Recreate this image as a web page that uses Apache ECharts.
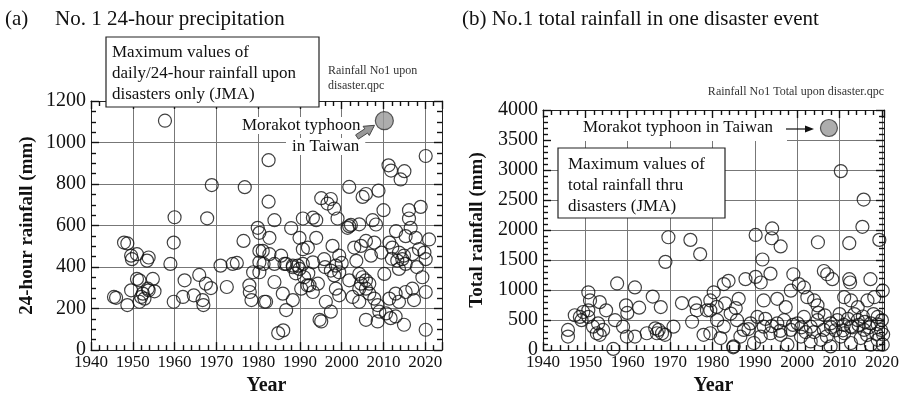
<!DOCTYPE html>
<html>
<head>
<meta charset="utf-8">
<script src="https://cdn.jsdelivr.net/npm/echarts@6/dist/echarts.min.js"></script>
<style>
  html, body { margin: 0; padding: 0; background: #fff; }
  #chart { width: 902px; height: 401px; }
</style>
</head>
<body>
<div id="chart"></div>
<script>
// (a) 24-hour rainfall, largest value per disaster
const yearA = [
  1957.7, 1968.9, 1976.8, 1960.0, 1967.8, 1982.5, 1982.5, 2020.1, 2011.2, 2011.8,
  2015.0, 2014.1, 2001.8, 2008.8, 2005.8, 2005.0, 1995.1, 1997.4, 1996.6, 1998.2,
  1983.9, 1990.7, 1993.1, 1993.9, 1999.0, 2007.4, 2010.0, 2016.1, 2018.9, 2016.1,
  2002.2, 2004.2, 1987.9, 1947.9, 1948.7, 1949.6, 1951.0, 1949.8, 1953.8, 1953.4,
  1959.8, 1959.0, 1971.0, 1973.9, 1974.9, 1976.5, 1979.9, 1980.3, 1981.3, 1978.8,
  1981.5, 1945.5, 1946.0, 1948.7, 1949.6, 1951.0, 1951.6, 1954.8, 1955.2, 1953.6,
  1952.4, 1952.0, 1952.8, 1951.6, 1953.8, 1959.8, 1962.4, 1962.0, 1965.9, 1967.5,
  1968.7, 1964.6, 1966.7, 1966.9, 1972.5, 1977.9, 1978.0, 1978.4, 1980.3, 1980.3,
  1982.7, 1989.9, 1993.9, 1982.7, 1981.1, 1985.5, 1990.7, 1991.9, 1997.8, 1999.4,
  2001.8, 2008.2, 2003.0, 2004.6, 2005.8, 2007.8, 2013.0, 2016.5, 2020.9, 2011.4,
  2012.1, 2013.7, 2014.9, 2016.9, 2018.5, 2020.1, 2013.3, 2015.3, 2017.7, 1980.3,
  1983.9, 1986.3, 1988.3, 1989.5, 1990.7, 1993.1, 1995.8, 1998.6, 1999.4, 1998.2,
  1997.4, 2004.2, 2005.0, 2005.8, 2006.6, 2004.6, 2004.2, 2005.8, 2001.8, 2010.2,
  2014.5, 2015.3, 2013.7, 2019.3, 1983.9, 1985.9, 1988.3, 1990.3, 1992.3, 1993.1,
  1994.3, 1981.9, 1996.2, 1997.4, 1998.6, 1999.4, 1986.7, 1994.7, 1995.1, 2002.6,
  2004.2, 2006.6, 2007.8, 2009.0, 2008.6, 2010.6, 2011.4, 2012.9, 2013.7, 2015.3,
  2016.9, 2017.3, 2020.1, 2011.7, 2012.9, 2005.8, 2008.6, 2014.9, 2020.1, 1984.8,
  1986.0, 1988.3, 1989.9, 1986.7, 1991.0, 1991.8, 2001.4, 2003.5, 2007.0, 2009.5,
  2012.0, 2019.8, 2018.0, 2000.0, 1996.0, 1992.0, 1989.0
];
const rainA = [
  1105, 795, 785, 640, 635, 915, 715, 935, 890, 865,
  862, 822, 786, 768, 752, 738, 732, 728, 706, 682,
  626, 634, 638, 626, 634, 626, 674, 674, 690, 634,
  603, 606, 588, 518, 514, 455, 462, 438, 446, 431,
  518, 415, 407, 415, 420, 526, 589, 478, 415, 375,
  233, 256, 252, 217, 288, 343, 336, 343, 283, 296,
  272, 256, 248, 233, 288, 233, 336, 256, 362, 320,
  299, 264, 241, 217, 304, 312, 280, 241, 375, 565,
  541, 541, 541, 462, 478, 455, 486, 494, 502, 455,
  597, 605, 494, 502, 526, 518, 573, 589, 533, 518,
  494, 470, 455, 462, 486, 438, 431, 549, 541, 423,
  415, 415, 407, 407, 415, 423, 438, 407, 375, 360,
  383, 367, 351, 336, 320, 320, 296, 296, 336, 367,
  438, 415, 391, 351, 328, 272, 241, 296, 312, 280,
  320, 233, 233, 185, 296, 264, 193, 146, 138, 256,
  233, 272, 248, 185, 217, 177, 248, 272, 233, 280,
  296, 241, 280, 154, 162, 146, 138, 122, 98, 82,
  95, 399, 391, 415, 351, 312, 589, 430, 455, 470,
  440, 470, 400, 420, 400, 370, 370
];

// (b) total rainfall through one disaster event
const yearB = [
  1969.6, 1974.8, 1977.1, 1968.9, 1957.5, 1961.7, 1950.7, 1951.1, 1953.4, 1954.9,
  1959.6, 1959.9, 1962.7, 1965.9, 1967.8, 1972.8, 1975.9, 1976.3, 1978.7, 1979.5,
  1947.5, 1948.7, 1949.5, 1950.7, 1949.1, 1950.7, 1945.9, 1945.9, 1951.8, 1953.0,
  1954.2, 1952.7, 1953.4, 1957.0, 1958.9, 1959.8, 1961.7, 1956.6, 1964.5, 1966.5,
  1967.3, 1966.9, 1968.1, 1968.8, 1970.8, 1975.2, 1977.9, 1979.5, 1990.2, 1994.1,
  1994.0, 1996.1, 1991.8, 1987.8, 1990.2, 1991.4, 1993.7, 1999.1, 2004.9, 2012.3,
  2015.4, 2019.4, 2006.3, 2007.1, 2008.3, 2012.3, 2012.5, 2017.3, 2020.2, 1983.8,
  1982.7, 1980.3, 1986.2, 1992.1, 1995.3, 1997.3, 1998.5, 2000.4, 2001.6, 2002.4,
  2004.0, 2004.8, 2011.1, 2012.7, 2014.3, 2016.6, 2018.2, 1979.5, 1981.1, 1982.7,
  1984.3, 1985.8, 1987.4, 1989.0, 1990.6, 1992.1, 1993.7, 1995.3, 1996.9, 1998.5,
  2000.1, 2001.6, 2003.2, 2004.8, 2006.3, 2007.9, 2009.5, 2011.1, 2012.7, 2014.3,
  2015.8, 2017.4, 2019.0, 2019.8, 1981.9, 1986.6, 1991.4, 1996.1, 2000.9, 2005.6,
  2010.3, 2015.0, 2019.0, 1985.0, 1989.8, 1997.7, 2003.2, 2007.9, 2012.7, 2017.4,
  2020.2, 2005.0, 2006.5, 2008.0, 2009.0, 2010.0, 2011.0, 2012.0, 2013.0, 2013.5,
  2014.5, 2015.5, 2016.0, 2017.0, 2018.0, 2019.0, 2020.0, 2020.3, 2004.0, 2007.0,
  2010.8, 2016.5, 2018.7, 1999.0, 2001.0, 2002.0, 1996.0, 1994.0, 1992.5, 1988.5,
  1985.5, 1983.0, 1981.0, 1984.9, 2010.3, 2015.7
];
const totalB = [
  1880, 1836, 1600, 1470, 1110, 1044, 963, 827, 799, 663,
  745, 619, 707, 892, 717, 783, 783, 663, 663, 827,
  581, 553, 635, 663, 499, 553, 336, 226, 390, 445,
  336, 281, 254, 499, 390, 226, 226, 20, 281, 363,
  336, 281, 281, 254, 390, 472, 254, 281, 1918, 2027,
  1863, 1727, 1509, 1182, 1220, 1126, 1274, 1264, 1797, 1781,
  2054, 1836, 1318, 1264, 1182, 1182, 1126, 1182, 990, 1154,
  1100, 963, 854, 827, 854, 717, 990, 1100, 1044, 881,
  827, 745, 881, 827, 717, 827, 881, 663, 499, 390,
  609, 499, 336, 445, 553, 390, 281, 445, 499, 336,
  445, 553, 390, 499, 336, 445, 499, 281, 390, 499,
  336, 445, 553, 336, 200, 226, 226, 254, 226, 172,
  226, 200, 172, 62, 118, 90, 144, 62, 118, 90,
  90, 620, 580, 380, 330, 600, 420, 520, 380, 600,
  420, 560, 470, 380, 600, 430, 500, 260, 300, 230,
  330, 250, 270, 420, 380, 300, 320, 400, 520, 350,
  700, 780, 720, 46, 2982, 2508
];

// Morakot typhoon (Taiwan, 2009), drawn filled grey
const morakotA = [[2010.2, 1105]];
const morakotB = [[2007.5, 3700]];

const xTicksA = [1940, 2024, 10];
const yTicksA = [0, 1200, 200];
const xTicksB = [1940, 2020.5, 10];
const yTicksB = [0, 4000, 500];

const serif = '"Liberation Serif", "Times New Roman", serif';
const zip = (xs, ys) => xs.map((x, i) => [x, ys[i]]);
const plain = v => String(v);

function xAxis(gi, t, pos, main, name) {
  return {
    type: 'value', gridIndex: gi, min: t[0], max: t[1], interval: t[2], position: pos,
    axisLine: { show: true, onZero: false, lineStyle: { color: '#222' } },
    axisTick: { show: true, inside: true, length: 8, lineStyle: { color: '#111', width: 1.4 } },
    minorTick: { show: true, splitNumber: 5, length: 5, lineStyle: { color: '#111', width: 1.4 } },
    splitLine: { show: main, lineStyle: { color: '#777', width: 1 } },
    axisLabel: { show: main, showMaxLabel: false, formatter: plain, color: '#111', fontFamily: serif, fontSize: 17, margin: 4 },
    name: main ? name : '', nameLocation: 'middle', nameGap: 24,
    nameTextStyle: { fontFamily: serif, fontWeight: 'bold', fontSize: 20, color: '#111' }
  };
}

function yAxis(gi, t, pos, minor, main, name, gap) {
  return {
    type: 'value', gridIndex: gi, min: t[0], max: t[1], interval: t[2], position: pos,
    axisLine: { show: true, onZero: false, lineStyle: { color: '#222' } },
    axisTick: { show: true, inside: true, length: 8, lineStyle: { color: '#111', width: 1.4 } },
    minorTick: { show: true, splitNumber: minor, length: 5, lineStyle: { color: '#111', width: 1.4 } },
    splitLine: { show: main, lineStyle: { color: '#777', width: 1 } },
    axisLabel: { show: main, formatter: plain, color: '#111', fontFamily: serif, fontSize: 20, margin: 5 },
    name: main ? name : '', nameLocation: 'middle', nameGap: gap, nameRotate: 90,
    nameTextStyle: { fontFamily: serif, fontWeight: 'bold', fontSize: 19, color: '#111' }
  };
}

const hollow = { color: 'rgba(0,0,0,0)', borderColor: '#111', borderWidth: 1.2 };
const filled = { color: '#999', borderColor: '#333', borderWidth: 1.2 };

const txt = (x, y, text, size, extra) => ({
  type: 'text', left: x, top: y, z: 120,
  style: Object.assign({ text, fontFamily: serif, fontSize: size, fill: '#111' }, extra || {})
});

const chart = echarts.init(document.getElementById('chart'));

chart.setOption({
  animation: false,
  grid: [
    { left: 91, top: 101, width: 351, height: 253 },
    { left: 543, top: 110, width: 341, height: 245 }
  ],
  xAxis: [
    xAxis(0, xTicksA, 'bottom', true, 'Year'),
    xAxis(0, xTicksA, 'top', false, ''),
    xAxis(1, xTicksB, 'bottom', true, 'Year'),
    xAxis(1, xTicksB, 'top', false, '')
  ],
  yAxis: [
    yAxis(0, yTicksA, 'left', 4, true, '24-hour rainfall (mm)', 54),
    yAxis(0, yTicksA, 'right', 4, false, '', 0),
    yAxis(1, yTicksB, 'left', 5, true, 'Total rainfall (mm)', 56),
    yAxis(1, yTicksB, 'right', 5, false, '', 0)
  ],
  series: [
    { type: 'scatter', xAxisIndex: 0, yAxisIndex: 0, symbolSize: 13, itemStyle: hollow, data: zip(yearA, rainA) },
    { type: 'scatter', xAxisIndex: 0, yAxisIndex: 0, symbolSize: 18, itemStyle: filled, data: morakotA },
    { type: 'scatter', xAxisIndex: 2, yAxisIndex: 2, symbolSize: 13, itemStyle: hollow, data: zip(yearB, totalB) },
    { type: 'scatter', xAxisIndex: 2, yAxisIndex: 2, symbolSize: 17, itemStyle: filled, data: morakotB }
  ],
  graphic: [
    // panel (a)
    txt(5, 9, '(a)', 21),
    txt(55, 9, 'No. 1 24-hour precipitation', 21),
    { type: 'rect', z: 110, shape: { x: 106, y: 37, width: 213, height: 70 },
      style: { fill: '#fff', stroke: '#222', lineWidth: 1.2 } },
    txt(112, 42, 'Maximum values of\ndaily/24-hour rainfall upon\ndisasters only (JMA)', 17, { lineHeight: 21 }),
    txt(328, 63, 'Rainfall No1 upon\ndisaster.qpc', 12, { lineHeight: 15, fill: '#333' }),
    txt(240, 117, 'Morakot typhoon', 17, { backgroundColor: '#fff', padding: [0, 2] }),
    txt(286, 138, 'in Taiwan', 17, { backgroundColor: '#fff', padding: [0, 6] }),
    { type: 'polygon', z: 120,
      shape: { points: [[358.4, 139.1], [367.6, 133.0], [369.3, 135.5], [374.5, 125.3], [363.1, 126.3], [364.8, 128.8], [355.6, 134.9]] },
      style: { fill: '#999', stroke: '#444', lineWidth: 1 } },
    // panel (b)
    txt(462, 9, '(b) No.1 total rainfall in one disaster event', 21),
    { type: 'text', right: 18, top: 86, z: 120,
      style: { text: 'Rainfall No1 Total upon disaster.qpc', fontFamily: serif, fontSize: 12, fill: '#333' } },
    { type: 'rect', z: 105, shape: { x: 551, y: 118, width: 236, height: 23 }, style: { fill: '#fff' } },
    txt(583, 119, 'Morakot typhoon in Taiwan', 17),
    { type: 'line', z: 120, shape: { x1: 786, y1: 129, x2: 806, y2: 129 }, style: { stroke: '#111', lineWidth: 1.2 } },
    { type: 'polygon', z: 120, shape: { points: [[805, 125.5], [814, 129], [805, 132.5]] }, style: { fill: '#111' } },
    { type: 'rect', z: 110, shape: { x: 558, y: 148, width: 167, height: 70 },
      style: { fill: '#fff', stroke: '#222', lineWidth: 1.2 } },
    txt(568, 154, 'Maximum values of\ntotal rainfall thru\ndisasters (JMA)', 17, { lineHeight: 21 })
  ]
});
</script>
</body>
</html>
